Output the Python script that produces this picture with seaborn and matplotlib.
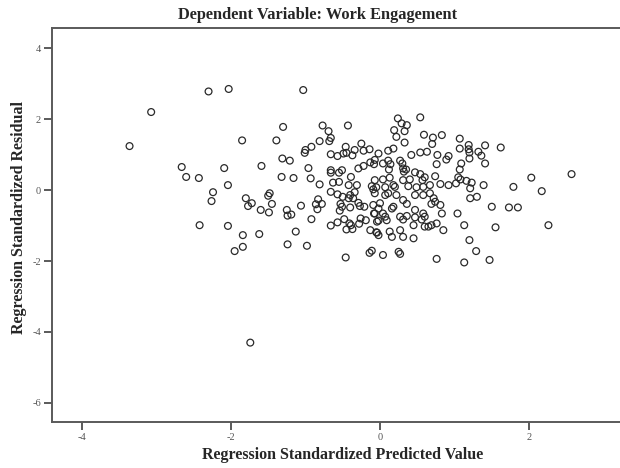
import matplotlib
matplotlib.use("Agg")
import matplotlib.pyplot as plt
import seaborn as sns
import pandas as pd

# Standardized predicted values (x) and standardized residuals (y)
pred = [
    -3.36, -3.07, -2.30, -2.03, -1.03, -1.85, -2.66, -2.60, -2.43, -2.09, -2.24, -2.26,
    -2.04, -1.80, -1.72, -1.77, -2.42, -2.04, -1.84, -1.84, -1.95, -1.74,
    -1.30, -0.77, -0.43, -1.39, -0.69, -0.66, -0.68, -0.81, -0.92, -1.00, -1.01, -0.46,
    -0.45, -0.25, -0.34, -0.22, -0.14, -0.66, -0.57, -0.49, -0.37, -0.02, -1.31, -1.21,
    -1.59, -0.96, -0.66, -0.66, -0.55, -0.51, -0.29, -0.22, -0.13, -0.07, -1.32, -1.16,
    -0.93, -0.81, -0.63, -0.55, -0.39, -0.42, -0.31, -0.11, -0.05,
    -1.50, -1.48, -1.45, -1.60, -1.49, -1.25, -1.24, -1.19, -1.06, -0.92, -0.86, -0.83,
    -0.78, -0.84, -0.66, -0.57, -0.50, -0.40, -0.34, -0.42, -0.36, -0.53, -0.51, -0.54,
    -0.40, -0.29, -0.27, -0.21, -0.66, -0.57, -0.48, -0.41, -0.45, -0.37, -0.39, -0.28,
    -0.26, -0.19, -0.13, -0.05, -0.08, -0.04, -1.62, -1.13, -1.24, -0.98, -0.46, -0.14,
    -0.11,
    0.24, 0.54, 0.29, 0.36, 0.19, 0.33, 0.22, 0.33, 0.59, 0.71, 0.83, 0.70, 1.07, 1.07,
    1.19, 1.19, 1.20, 1.41, 1.32, 1.36, 1.41, 1.62, 1.20, 1.09, 1.07, 1.05, -0.08, 0.11,
    0.18, 0.04, 0.11, 0.14, 0.12, 0.27, 0.30, 0.31, 0.35, 0.32, 0.42, 0.54, 0.63, 0.47,
    0.54, 0.77, 0.76, 0.89, 0.92, 0.74, -0.07, 0.04, 0.13, 0.31, 0.40, 0.57, 0.60, 0.67,
    0.81, 0.92, 1.02, 1.08, 1.16, 1.23, 1.39, 0.07, 0.20, 0.38, 0.49,
    -0.09, -0.07, 0.07, 0.11, 1.30, 1.21, 1.21, 0.22, 0.31, 0.36, 0.47, 0.58, 0.67, 0.72,
    0.74, 0.81, 0.69, -0.09, -0.02, 0.00, 0.04, 0.07, 0.09, -0.02, -0.07, 0.16, 0.18,
    0.27, 0.31, 0.36, 0.47, 0.47, 0.58, 0.60, 0.56, 0.45, 0.60, 0.65, 0.69, 0.76, 0.83,
    1.04, 1.50, 1.13, 0.85, 1.55, -0.04, -0.02, 0.13, 0.16, 0.27, 0.31, 0.45, 1.20, 1.29,
    0.04, 0.25, 0.27, 0.76, 1.13, 1.47, 0.18, 0.58,
    2.03, 2.57, 1.79, 2.17, 1.73, 1.85, 2.26,
]
resid = [
    1.24, 2.20, 2.78, 2.85, 2.82, 1.40, 0.65, 0.37, 0.34, 0.62, -0.06, -0.31,
    0.14, -0.23, -0.37, -0.45, -0.99, -1.01, -1.27, -1.60, -1.72, -4.30,
    1.78, 1.82, 1.82, 1.40, 1.66, 1.47, 1.38, 1.38, 1.22, 1.13, 1.05, 1.22,
    1.05, 1.31, 1.13, 1.11, 1.15, 1.01, 0.96, 1.03, 0.98, 1.03, 0.89, 0.83,
    0.68, 0.62, 0.56, 0.49, 0.49, 0.56, 0.61, 0.68, 0.78, 0.85, 0.37, 0.34,
    0.33, 0.16, 0.21, 0.23, 0.37, 0.14, 0.14, 0.11, 0.08,
    -0.16, -0.09, -0.39, -0.56, -0.63, -0.56, -0.72, -0.69, -0.44, -0.82, -0.40, -0.26,
    -0.39, -0.54, -0.05, -0.12, -0.19, -0.14, -0.06, -0.23, -0.23, -0.39, -0.47, -0.58,
    -0.49, -0.36, -0.45, -0.47, -1.00, -0.91, -0.82, -0.94, -1.11, -1.10, -0.99, -0.95,
    -0.80, -0.85, -1.13, -1.19, -0.66, -0.89, -1.24, -1.17, -1.53, -1.57, -1.90, -1.77,
    -1.71,
    2.02, 2.05, 1.88, 1.83, 1.69, 1.66, 1.50, 1.34, 1.56, 1.48, 1.55, 1.30, 1.45, 1.17,
    1.27, 1.15, 1.06, 1.26, 1.08, 0.97, 0.75, 1.20, 0.89, 0.75, 0.58, 0.36, 0.73, 1.11,
    1.17, 0.75, 0.83, 0.73, 0.58, 0.83, 0.75, 0.61, 0.58, 0.52, 0.99, 1.06, 1.08, 0.50,
    0.45, 0.99, 0.73, 0.86, 0.96, 0.39, 0.28, 0.30, 0.35, 0.28, 0.30, 0.28, 0.36, 0.14,
    0.17, 0.14, 0.19, 0.30, 0.26, 0.21, 0.14, 0.08, 0.09, 0.11, 0.08,
    0.02, -0.09, -0.14, -0.09, -0.19, -0.23, 0.05, -0.14, -0.28, -0.39, -0.14, -0.14, -0.09, -0.23,
    -0.33, -0.42, -0.39, -0.42, -0.52, -0.37, -0.66, -0.75, -0.85, -0.86, -0.66, -0.52, -0.47,
    -0.75, -0.83, -0.73, -0.56, -0.77, -0.66, -0.75, -0.83, -0.99, -1.03, -1.03, -0.99, -0.94, -0.66,
    -0.66, -0.47, -0.99, -1.13, -1.05, -1.20, -1.27, -1.17, -1.32, -1.13, -1.32, -1.36, -1.41, -1.72,
    -1.83, -1.74, -1.80, -1.94, -2.04, -1.97, 0.14, 0.09,
    0.35, 0.45, 0.09, -0.03, -0.49, -0.49, -0.99,
]

x_ticks = [-4, -2, 0, 2]
y_ticks = [4, 2, 0, -2, -4, -6]

df = pd.DataFrame({"predicted": pred, "residual": resid})

sns.set_style("white")
plt.rcParams["font.family"] = ["Liberation Serif", "DejaVu Serif"]

fig = plt.figure(figsize=(6.2, 4.68), dpi=100)
ax = fig.add_axes([0.0839, 0.0989, 0.9161, 0.8406])

sns.scatterplot(data=df, x="predicted", y="residual", ax=ax,
                marker="o", s=24, facecolors="none", edgecolor="#2a2a2a",
                linewidth=0.9, legend=False)

ax.set_xlim(-4.40, 3.22)
ax.set_ylim(-6.53, 4.56)
ax.set_xticks(x_ticks)
ax.set_yticks(y_ticks)
ax.set_xticklabels([str(t) for t in x_ticks])
ax.set_yticklabels([str(t) for t in y_ticks])

spine_col = "#5a5a5a"
for side in ["left", "top", "bottom"]:
    ax.spines[side].set_color(spine_col)
    ax.spines[side].set_linewidth(1.4)
ax.spines["right"].set_visible(False)

ax.tick_params(axis="both", direction="out", length=6, width=1.4,
               color=spine_col, labelsize=7.5, labelcolor="#555555", pad=2)
ax.tick_params(left=True, bottom=True)

ax.set_xlabel("")
ax.set_ylabel("")
fig.text(0.552, 0.028, "Regression Standardized Predicted Value",
         ha="center", va="center", fontsize=11.5, fontweight="bold")
fig.text(0.030, 0.535, "Regression Standardized Residual",
         ha="center", va="center", rotation=90, fontsize=11.5, fontweight="bold")
fig.text(0.513, 0.968, "Dependent Variable: Work Engagement",
         ha="center", va="center", fontsize=11.8, fontweight="bold")

fig.savefig("out.png", dpi=100)
